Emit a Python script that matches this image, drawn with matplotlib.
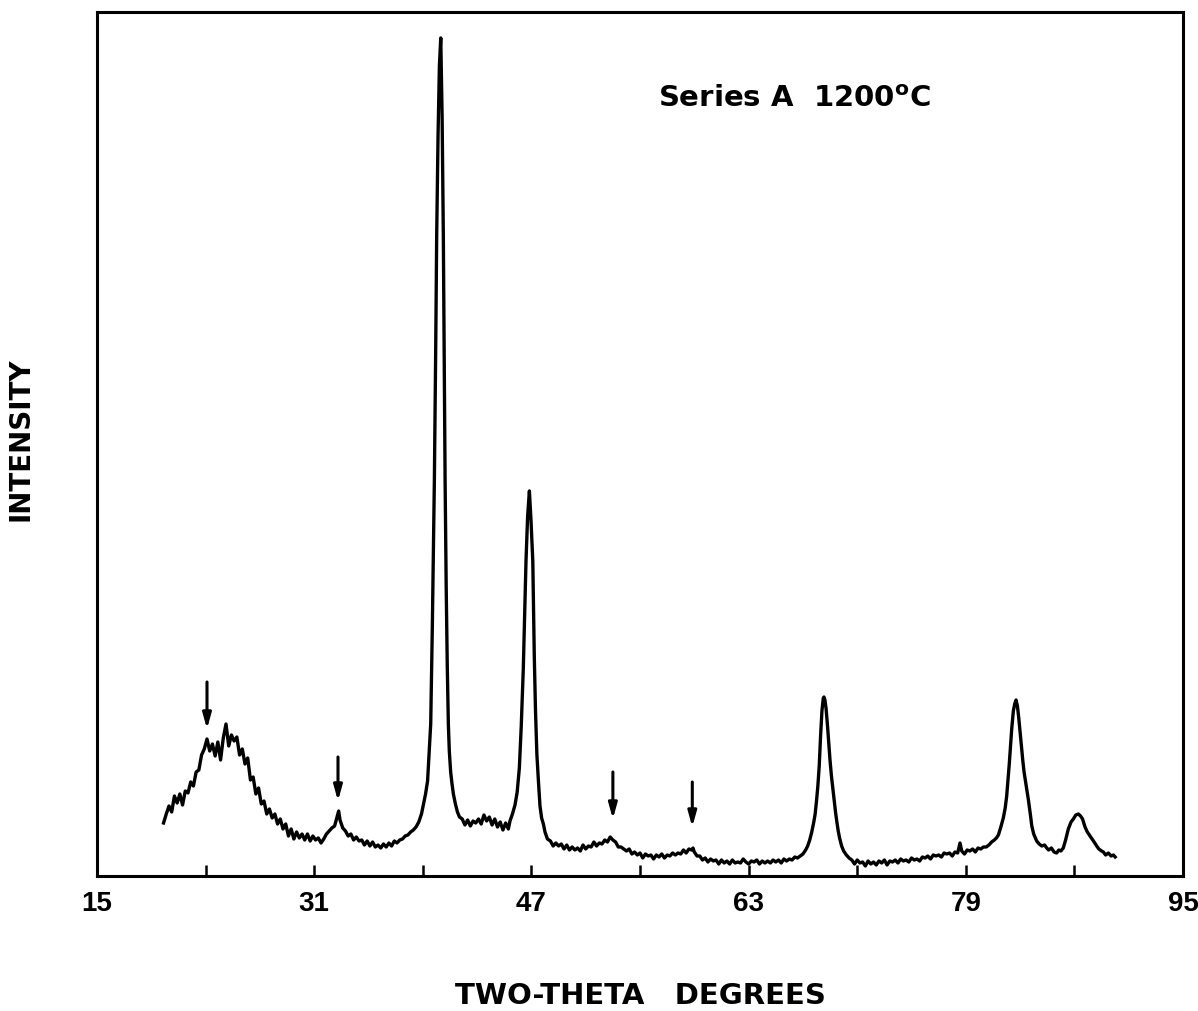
import matplotlib
matplotlib.use("Agg")
import matplotlib.pyplot as plt
import numpy as np

plt.rcParams['font.family'] = ['Liberation Sans', 'DejaVu Sans']
plt.rcParams['font.weight'] = 'bold'
plt.rcParams['mathtext.fontset'] = 'dejavusans'

# scan, grouped by region (2-theta, intensity in arbitrary units)
hump_x = [19.9, 20.1, 20.3, 20.5, 20.7, 20.9, 21.1, 21.3, 21.5, 21.7, 21.9, 22.1, 22.3,
          22.5, 22.7, 22.9, 23.1, 23.3, 23.5, 23.7, 23.9, 24.1, 24.3, 24.5, 24.7, 24.9,
          25.1, 25.3, 25.5, 25.7, 25.9, 26.1, 26.3, 26.5, 26.7, 26.9, 27.1, 27.3, 27.5,
          27.7, 27.9, 28.1, 28.3, 28.5, 28.7, 28.9, 29.1, 29.3, 29.5, 29.7, 29.9, 30.1,
          30.3, 30.5, 30.7, 30.9, 31.1, 31.3, 31.5, 31.7, 31.9, 32.1, 32.3, 32.5, 32.7,
          32.8, 32.9, 33.1, 33.3, 33.5, 33.7, 33.9, 34.1, 34.3, 34.5, 34.7, 34.9, 35.1,
          35.3, 35.5, 35.7, 35.9, 36.1, 36.3, 36.5, 36.7, 36.9, 37.1, 37.3, 37.5, 37.7,
          37.9, 38.1]
hump_y = [53, 62, 70, 64, 80, 73, 82, 71, 85, 83, 94, 90, 104,
          106, 121, 127, 137, 125, 132, 120, 134, 116, 138, 152, 130, 141,
          135, 139, 121, 127, 112, 118, 96, 99, 82, 88, 72, 75, 62,
          67, 58, 62, 52, 57, 47, 52, 40, 47, 37, 44, 38, 42,
          36, 42, 35, 40, 36, 38, 33, 37, 42, 45, 48, 50, 60,
          65, 56, 48, 45, 40, 42, 36, 39, 35, 36, 31, 35, 30,
          34, 29, 31, 28, 32, 29, 33, 30, 35, 33, 36, 37, 40,
          41, 44]

peak1_x = [38.3, 38.5, 38.7, 38.9, 39.05, 39.2, 39.35, 39.45, 39.58, 39.7, 39.85, 39.95,
           40.02, 40.12, 40.22, 40.32, 40.42, 40.51, 40.58, 40.64, 40.72, 40.8, 40.88,
           40.95, 41.05, 41.15, 41.25, 41.4, 41.55, 41.7]
peak1_y = [46, 49, 54, 62, 72, 82, 95, 120, 152, 250, 396, 530,
           640, 740, 810, 838, 760, 640, 510, 396, 290, 210, 152,
           125, 104, 92, 82, 72, 64, 59]

shoulder_x = [41.9, 42.1, 42.3, 42.5, 42.7, 42.9, 43.1, 43.3, 43.5, 43.7, 43.9, 44.1,
              44.3, 44.5, 44.7, 44.9, 45.1, 45.3]
shoulder_y = [57, 51, 56, 50, 55, 53, 57, 52, 61, 55, 59, 51,
              57, 49, 54, 46, 53, 47]

peak2_x = [45.42, 45.6, 45.79, 45.95, 46.11, 46.25, 46.4, 46.5, 46.6, 46.72, 46.85,
           46.97, 47.1, 47.21, 47.3, 47.4, 47.51, 47.63, 47.75, 47.88, 48.0, 48.18]
peak2_y = [55, 62, 71, 84, 108, 150, 207, 260, 315, 360, 385,
           355, 315, 220, 165, 122, 96, 70, 58, 52, 44, 37]

base1_x = [48.4, 48.6, 48.8, 49.0, 49.2, 49.4, 49.6, 49.8, 50.0, 50.2, 50.4, 50.6,
           50.8, 51.0, 51.2, 51.4, 51.6, 51.8, 52.0, 52.2, 52.4, 52.6, 52.8, 53.0,
           53.2, 53.4, 53.6, 53.8, 54.0, 54.2, 54.4, 54.6, 54.8, 55.0, 55.2, 55.4,
           55.6, 55.8, 56.0, 56.2, 56.4, 56.6, 56.8, 57.0, 57.2, 57.4, 57.6, 57.8,
           58.0, 58.2, 58.4, 58.6, 58.8, 58.9, 59.0, 59.2, 59.4, 59.6, 59.8, 60.0,
           60.2, 60.4, 60.6, 60.8, 61.0, 61.2, 61.4, 61.6, 61.8, 62.0, 62.2, 62.4,
           62.6, 62.8, 63.0, 63.2, 63.4, 63.6, 63.8, 64.0, 64.2, 64.4, 64.6, 64.8,
           65.0, 65.2, 65.4, 65.6, 65.8, 66.0, 66.2, 66.4]
base1_y = [35, 30, 33, 30, 32, 27, 31, 26, 29, 26, 28, 25,
           31, 27, 30, 29, 34, 30, 33, 32, 36, 34, 39, 36,
           34, 29, 29, 27, 25, 27, 22, 24, 21, 23, 18, 22,
           20, 21, 17, 21, 19, 22, 18, 21, 20, 23, 21, 23,
           22, 26, 23, 27, 26, 28, 24, 20, 20, 16, 18, 14,
           17, 15, 16, 12, 16, 13, 15, 12, 16, 13, 14, 13,
           17, 14, 12, 15, 14, 16, 12, 15, 13, 15, 13, 16,
           14, 16, 13, 17, 15, 17, 16, 19]

peak3_x = [66.6, 66.8, 67.0, 67.2, 67.35, 67.5, 67.65, 67.8, 67.9, 68.0, 68.1, 68.2,
           68.3, 68.4, 68.5, 68.55, 68.62, 68.7, 68.8, 68.9, 69.0, 69.1, 69.2, 69.3,
           69.4, 69.5, 69.6, 69.7, 69.85, 70.0, 70.2, 70.4]
peak3_y = [18, 20, 22, 26, 30, 36, 44, 54, 62, 75, 90, 110,
           140, 165, 178, 179, 176, 168, 152, 133, 115, 100, 88, 76,
           64, 54, 45, 38, 30, 25, 21, 18]

base2_x = [70.6, 70.8, 71.0, 71.2, 71.4, 71.6, 71.8, 72.0, 72.2, 72.4, 72.6, 72.8,
           73.0, 73.2, 73.4, 73.6, 73.8, 74.0, 74.2, 74.4, 74.6, 74.8, 75.0, 75.2,
           75.4, 75.6, 75.8, 76.0, 76.2, 76.4, 76.6, 76.8, 77.0, 77.2, 77.4, 77.6,
           77.8, 78.0, 78.2, 78.4, 78.57, 78.7, 78.9, 79.1, 79.3, 79.5, 79.7, 79.9,
           80.1, 80.3]
base2_y = [16, 12, 16, 13, 14, 10, 15, 12, 14, 11, 15, 13,
           16, 11, 15, 14, 16, 13, 17, 15, 16, 14, 18, 16,
           17, 15, 19, 18, 20, 17, 21, 20, 21, 19, 23, 22,
           23, 20, 24, 23, 33, 25, 22, 26, 25, 27, 24, 28,
           27, 29]

peak4_x = [80.5, 80.7, 80.9, 81.1, 81.25, 81.4, 81.6, 81.76, 81.9, 82.01, 82.1, 82.2,
           82.3, 82.38, 82.5, 82.6, 82.7, 82.8, 82.9, 82.99, 83.1, 83.2, 83.29, 83.45,
           83.61, 83.75, 83.86, 84.0, 84.22, 84.4, 84.6, 84.8, 84.96, 85.1, 85.3, 85.5,
           85.69, 85.85, 86.0, 86.18]
peak4_y = [29, 31, 34, 36, 38, 41, 50, 58, 68, 80, 95, 112,
           132, 147, 165, 172, 176, 170, 158, 145, 128, 115, 104, 90,
           76, 62, 50, 42, 35, 32, 30, 31, 28, 26, 28, 24,
           23, 26, 25, 28]

peak5_x = [86.35, 86.55, 86.75, 86.92, 87.1, 87.29, 87.45, 87.6, 87.78, 87.95, 88.15,
           88.35, 88.5, 88.64, 88.8, 89.0, 89.13, 89.3, 89.5, 89.7, 89.87, 90.0]
peak5_y = [36, 47, 54, 57, 61, 62, 60, 57, 49, 44, 40,
           36, 33, 30, 27, 25, 24, 21, 23, 20, 21, 19]

# marker arrows: position, tail and tip intensity
arrow_x = [23.1, 32.75, 53.0, 58.85]
arrow_tail = [194, 119, 104, 94]
arrow_tip = [147, 75, 57, 49]

labeled_ticks = [15, 31, 47, 63, 79, 95]
minor_ticks = [23, 39, 55, 71, 87]

two_theta = np.concatenate([hump_x, peak1_x, shoulder_x, peak2_x, base1_x,
                            peak3_x, base2_x, peak4_x, peak5_x])
intensity = np.concatenate([hump_y, peak1_y, shoulder_y, peak2_y, base1_y,
                            peak3_y, base2_y, peak4_y, peak5_y])

fig = plt.figure(figsize=(11.98, 10.12), dpi=100)
ax = fig.add_axes([0.081, 0.1334, 0.9065, 0.8538])

ax.plot(two_theta, intensity, color='black', lw=2.4, solid_joinstyle='round')

for x, t0, t1 in zip(arrow_x, arrow_tail, arrow_tip):
    ax.annotate('', xy=(x, t1), xytext=(x, t0),
                arrowprops=dict(arrowstyle='-|>,head_length=0.9,head_width=0.25',
                                color='black', lw=2.2, shrinkA=0, shrinkB=0))

ax.set_xlim(15, 95)
ax.set_ylim(0, 864)
ax.set_xticks(labeled_ticks)
ax.set_xticklabels([str(t) for t in labeled_ticks])
ax.set_xticks(minor_ticks, minor=True)
ax.set_yticks([])
ax.tick_params(axis='x', which='both', direction='in', length=8, width=1.8,
               labelsize=20, pad=10)
for lab in ax.get_xticklabels():
    lab.set_fontweight('bold')
for s in ax.spines.values():
    s.set_linewidth(2.2)

lab_font = ['DejaVu Sans']
ax.set_xlabel('TWO-THETA   DEGREES', fontsize=21, fontweight='bold', family=lab_font)
ax.xaxis.set_label_coords(0.5, -0.122)
ax.set_ylabel('INTENSITY', fontsize=20, fontweight='bold', family=lab_font)
ax.yaxis.set_label_coords(-0.058, 0.507)

ax.text(0.5166, 0.891, r'Series A  1200$^{\mathbf{o}}$C', transform=ax.transAxes,
        fontsize=21, fontweight='bold', family=lab_font, ha='left', va='baseline')

fig.savefig('out.png', dpi=100)
